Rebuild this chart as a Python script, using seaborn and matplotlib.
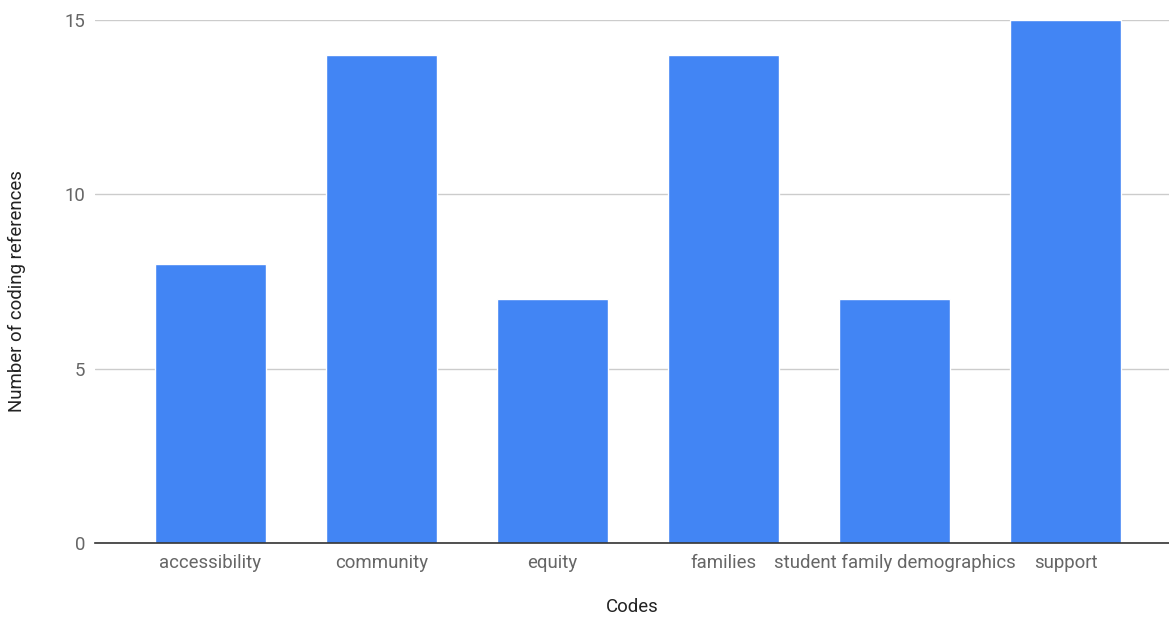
import matplotlib
matplotlib.use("Agg")
import matplotlib.pyplot as plt
import seaborn as sns
import pandas as pd

codes = ["accessibility", "community", "equity", "families",
         "student family demographics", "support"]
references = [8, 14, 7, 14, 7, 15]
y_ticks = [0, 5, 10, 15]

df = pd.DataFrame({"Codes": codes, "Number of coding references": references})

sns.set_theme(style="white")
plt.rcParams["font.family"] = ["Roboto", "DejaVu Sans"]

fig = plt.figure(figsize=(11.69, 6.17), dpi=100)
ax = fig.add_axes([95 / 1169, 74 / 617, 1 - 95 / 1169, 523 / 617])

sns.barplot(data=df, x="Codes", y="Number of coding references",
            color="#4285F4", saturation=1, width=0.65, ax=ax, zorder=3)

ax.set_xlim(-0.675, 5.605)
ax.set_ylim(0, 15)
ax.set_yticks(y_ticks)
ax.set_yticklabels([str(t) for t in y_ticks])
ax.grid(axis="y", color="#cccccc", linewidth=1, zorder=0)
ax.grid(axis="x", visible=False)

for side in ["top", "right", "left"]:
    ax.spines[side].set_visible(False)
ax.spines["bottom"].set_color("#333333")
ax.spines["bottom"].set_linewidth(1.2)
ax.spines["bottom"].set_zorder(4)

ax.tick_params(axis="both", length=0, labelsize=13.4, labelcolor="#666666")
ax.tick_params(axis="x", pad=8)
ax.tick_params(axis="y", pad=7)

ax.set_xlabel("Codes", fontsize=13.4, color="#222222")
ax.set_ylabel("Number of coding references", fontsize=13.4, color="#222222")
ax.xaxis.set_label_coords(0.5, -0.122)
ax.xaxis.label.set_va("center")
ax.yaxis.set_label_coords(-0.0726, 0.482)
ax.yaxis.label.set_va("center")

fig.savefig("out.png", dpi=100)
